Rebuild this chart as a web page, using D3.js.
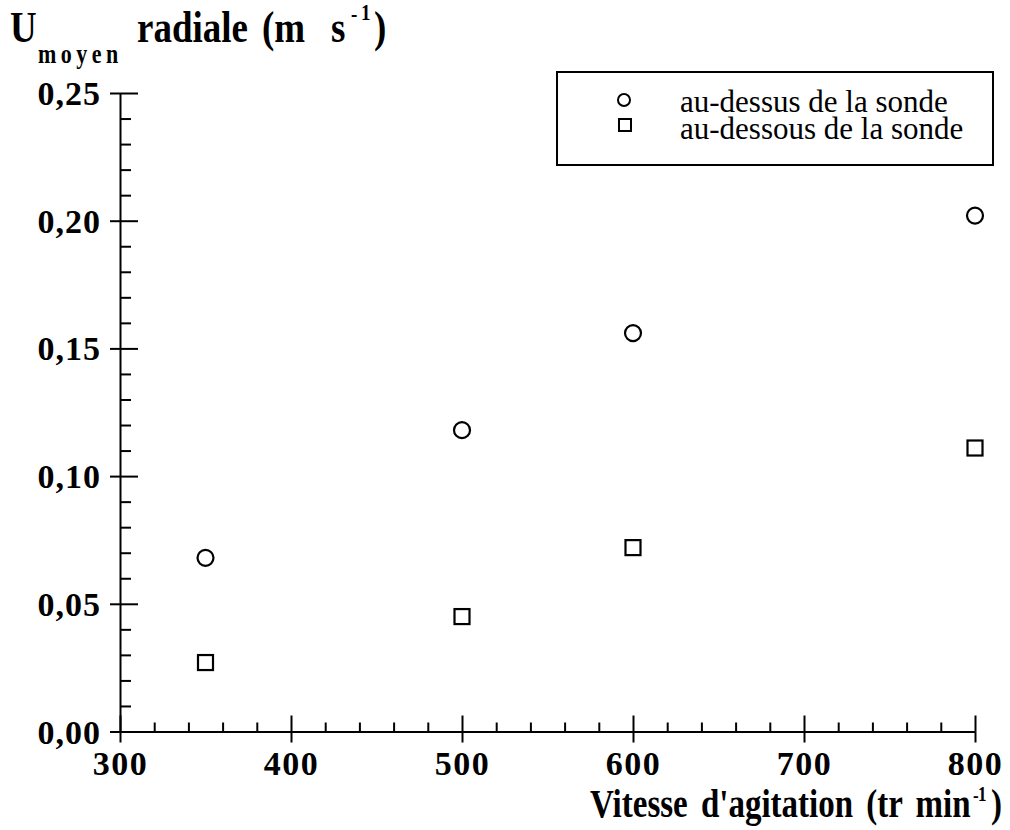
<!DOCTYPE html>
<html><head><meta charset="utf-8">
<script src="https://cdn.jsdelivr.net/npm/d3@7"></script>
<style>body{margin:0;background:#fff} svg{display:block}</style>
</head><body><svg id="c" width="1010" height="830"></svg>
<script>
const speeds = [350, 500, 600, 800];
const above = [0.068, 0.118, 0.156, 0.202];
const below = [0.027, 0.045, 0.072, 0.111];
const xTicks = [300, 400, 500, 600, 700, 800];
const xTickLabels = ["300", "400", "500", "600", "700", "800"];
const yTicks = [0, 0.05, 0.10, 0.15, 0.20, 0.25];
const yTickLabels = ["0,00", "0,05", "0,10", "0,15", "0,20", "0,25"];
const seriesNames = ["au-dessus de la sonde", "au-dessous de la sonde"];

const FONT = "'Liberation Serif','Times New Roman',Times,serif";
const svg = d3.select("#c");
const x = d3.scaleLinear().domain([300, 800]).range([120, 975]);
const y = d3.scaleLinear().domain([0, 0.25]).range([731.5, 93]);

const xMinor = d3.range(300, 801, 20).filter(v => v % 100 !== 0);
const yMinor = d3.range(0, 26, 1).filter(v => v % 5 !== 0).map(v => v / 100);

function style(g) {
  g.selectAll("path,line").attr("stroke", "#000").attr("stroke-width", 2);
  g.selectAll("text").attr("fill", "#000").style("font-family", FONT)
    .style("font-weight", "bold").style("font-size", "34px");
}

// Y axis
const gy = svg.append("g").attr("transform", "translate(120,0)");
gy.call(d3.axisLeft(y).tickValues(yTicks).tickSize(10).tickSizeOuter(0).tickPadding(9)
  .tickFormat((d, i) => yTickLabels[i])).call(style);
gy.selectAll("text").attr("dy", "0.34em").style("letter-spacing", "1px");
const gyIn = svg.append("g").attr("transform", "translate(120,0)");
gyIn.call(d3.axisLeft(y).tickValues(yTicks).tickSize(-18).tickFormat("")).call(style);
gyIn.select(".domain").remove();
const gyMin = svg.append("g").attr("transform", "translate(120,0)");
gyMin.call(d3.axisLeft(y).tickValues(yMinor).tickSize(-11).tickFormat("")).call(style);
gyMin.select(".domain").remove();

// X axis
const gx = svg.append("g").attr("transform", "translate(0,731.5)");
gx.call(d3.axisBottom(x).tickValues(xTicks).tickSize(11).tickSizeOuter(0)
  .tickFormat((d, i) => xTickLabels[i])).call(style);
gx.selectAll("text").attr("y", 43.5).attr("dy", 0).style("letter-spacing", "1.5px");
const gxIn = svg.append("g").attr("transform", "translate(0,731.5)");
gxIn.call(d3.axisBottom(x).tickValues(xTicks).tickSize(-16).tickFormat("")).call(style);
gxIn.select(".domain").remove();
const gxMin = svg.append("g").attr("transform", "translate(0,731.5)");
gxMin.call(d3.axisBottom(x).tickValues(xMinor).tickSize(-9).tickFormat("")).call(style);
gxMin.select(".domain").remove();

// Titles (vertically stretched bold serif, as in the reference)
const SY = 1.2;
const yt = svg.append("text").attr("transform", `scale(1,${SY})`).attr("fill", "#000")
  .style("font-family", FONT).style("font-weight", "bold").style("font-size", "37px");
yt.append("tspan").attr("x", 10).attr("y", 42 / SY).text("U");
yt.append("tspan").attr("x", 38).attr("y", 63 / SY).style("font-size", "22px")
  .style("letter-spacing", "4.5px").text("moyen");
yt.append("tspan").attr("x", 137).attr("y", 42 / SY).text("radiale");
yt.append("tspan").attr("x", 262).attr("y", 42 / SY).text("(m");
yt.append("tspan").attr("x", 331).attr("y", 42 / SY).text("s");
yt.append("tspan").attr("x", 351).attr("y", 22 / SY).style("font-size", "19px").text("-");
yt.append("tspan").attr("x", 361).attr("y", 20 / SY).style("font-size", "19px").text("1");
yt.append("tspan").attr("x", 374).attr("y", 42 / SY).text(")");

const xt = svg.append("text").attr("transform", `scale(1,${SY})`).attr("fill", "#000")
  .style("font-family", FONT).style("font-weight", "bold").style("font-size", "33px");
xt.append("tspan").attr("x", 590).attr("y", 817 / SY).style("word-spacing", "5px")
  .text("Vitesse d'agitation (tr min");
xt.append("tspan").attr("x", 973).attr("y", 802 / SY).style("font-size", "17px").text("-");
xt.append("tspan").attr("x", 978).attr("y", 801 / SY).style("font-size", "17px").text("1");
xt.append("tspan").attr("x", 991).attr("y", 817 / SY).text(")");

// Markers
const gp = svg.append("g");
gp.selectAll("circle.above").data(speeds).join("circle").attr("class", "above")
  .attr("cx", d => x(d)).attr("cy", (d, i) => y(above[i])).attr("r", 8)
  .attr("fill", "none").attr("stroke", "#000").attr("stroke-width", 2.2);
const S = 15;
gp.selectAll("rect.below").data(speeds).join("rect").attr("class", "below")
  .attr("x", d => x(d) - S / 2).attr("y", (d, i) => y(below[i]) - S / 2)
  .attr("width", S).attr("height", S)
  .attr("fill", "none").attr("stroke", "#000").attr("stroke-width", 2.2);

// Legend
const lg = svg.append("g");
lg.append("rect").attr("x", 557).attr("y", 72).attr("width", 436).attr("height", 93)
  .attr("fill", "#fff").attr("stroke", "#000").attr("stroke-width", 2);
lg.append("circle").attr("cx", 624).attr("cy", 100).attr("r", 6)
  .attr("fill", "none").attr("stroke", "#000").attr("stroke-width", 2);
lg.append("rect").attr("x", 619).attr("y", 119).attr("width", 12).attr("height", 12)
  .attr("fill", "none").attr("stroke", "#000").attr("stroke-width", 2);
const lt = lg.append("text").attr("fill", "#000").style("font-family", FONT).style("font-size", "31px");
lt.selectAll("tspan").data(seriesNames).join("tspan")
  .attr("x", 680).attr("y", (d, i) => 112 + i * 27)
  .text(d => d);
</script></body></html>
